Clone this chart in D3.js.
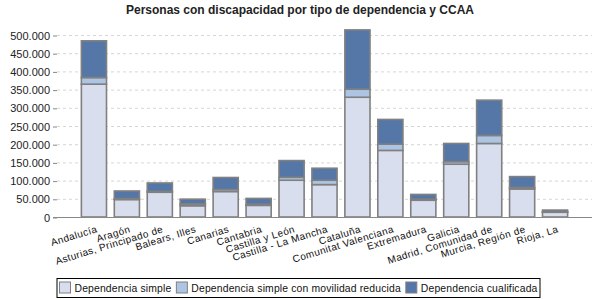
<!DOCTYPE html>
<html>
<head>
<meta charset="utf-8">
<script src="https://cdn.jsdelivr.net/npm/d3@7"></script>
<style>
  body { margin: 0; background: #fff; }
  svg { display: block; font-family: "Liberation Sans", Arial, sans-serif; }
  .grid line { stroke: #d6d6d6; stroke-dasharray: 3,3; }
  .tick-label { font-size: 11px; fill: #222; }
  .cat-label { font-size: 10px; fill: #111; letter-spacing: 0.4px; }
  .legend-text { font-size: 10.4px; fill: #111; letter-spacing: 0.15px; }
</style>
</head>
<body>
<div id="chart"></div>
<script>
var categories = ["Andalucía", "Aragón", "Asturias, Principado de", "Balears, Illes", "Canarias",
    "Cantabria", "Castilla y León", "Castilla - La Mancha", "Cataluña", "Comunitat Valenciana",
    "Extremadura", "Galicia", "Madrid, Comunidad de", "Murcia, Región de", "Rioja, La"];

var simple      = [365000, 48000, 68000, 31000, 70000, 32000, 101000, 89000, 329000, 183000, 46000, 145000, 202000, 77000, 13000];
var movilidad   = [18000, 2500, 2500, 5000, 5500, 3000, 8000, 12000, 22000, 17000, 3000, 7000, 22000, 4000, 1000];
var cualificada = [101000, 21000, 23000, 13000, 33000, 16000, 46000, 33000, 163000, 68000, 13000, 50000, 97000, 30000, 5000];

var seriesNames = ["Dependencia simple", "Dependencia simple con movilidad reducida", "Dependencia cualificada"];
var seriesColors = ["#d9deef", "#adc5e3", "#5577a8"];
var yTicks = [0, 50000, 100000, 150000, 200000, 250000, 300000, 350000, 400000, 450000, 500000];

var width = 600, height = 300,
    plot = {left: 57, right: 592, top: 35, bottom: 217};

var es = d3.formatLocale({decimal: ",", thousands: ".", grouping: [3], currency: ["", ""]});
var fmt = es.format(",d");

var rows = categories.map(function(c, i) {
    return {cat: c, simple: simple[i], movilidad: movilidad[i], cualificada: cualificada[i]};
});
var stack = d3.stack().keys(["simple", "movilidad", "cualificada"])(rows);

var x = d3.scaleBand()
    .domain(categories)
    .range([plot.left, plot.right])
    .paddingInner(0.237)
    .paddingOuter(0.74);

var y = d3.scaleLinear()
    .domain([0, 500000])
    .range([plot.bottom, plot.top]);

var svg = d3.select("#chart").append("svg")
    .attr("width", width)
    .attr("height", height);

svg.append("text")
    .attr("x", 300)
    .attr("y", 14)
    .attr("text-anchor", "middle")
    .style("font-size", "12px")
    .style("font-weight", "bold")
    .style("fill", "#222")
    .text("Personas con discapacidad por tipo de dependencia y CCAA");

// grid
svg.append("g").attr("class", "grid")
    .selectAll("line")
    .data(yTicks.filter(function(d) { return d > 0; }))
    .enter().append("line")
    .attr("x1", plot.left).attr("x2", plot.right)
    .attr("y1", function(d) { return y(d) + 0.5; })
    .attr("y2", function(d) { return y(d) + 0.5; });

// y axis
var yAxis = d3.axisLeft(y).tickValues(yTicks).tickFormat(fmt).tickSize(4).tickPadding(3);
var gy = svg.append("g")
    .attr("transform", "translate(" + plot.left + ",0.5)")
    .call(yAxis);
gy.select(".domain").remove();
gy.selectAll(".tick line").attr("stroke", "#888");
gy.selectAll(".tick text").attr("class", "tick-label");
gy.attr("font-family", null).attr("font-size", null);

// bars
svg.append("g")
    .selectAll("g")
    .data(stack)
    .enter().append("g")
    .attr("fill", function(d, i) { return seriesColors[i]; })
    .selectAll("rect")
    .data(function(d) { return d; })
    .enter().append("rect")
    .attr("x", function(d) { return x(d.data.cat); })
    .attr("width", x.bandwidth())
    .attr("y", function(d) { return y(d[1]); })
    .attr("height", function(d) { return y(d[0]) - y(d[1]); })
    .attr("stroke", "#808080")
    .attr("stroke-width", 1.6);

// x axis line
svg.append("line")
    .attr("x1", plot.left - 4).attr("x2", plot.right)
    .attr("y1", plot.bottom + 0.5).attr("y2", plot.bottom + 0.5)
    .attr("stroke", "#888");

// category labels
svg.append("g")
    .selectAll("text")
    .data(categories)
    .enter().append("text")
    .attr("class", "cat-label")
    .attr("text-anchor", "end")
    .attr("transform", function(d) {
        return "translate(" + (x(d) + x.bandwidth() / 2 + 4) + ",232) rotate(-17)";
    })
    .text(function(d) { return d; });

// legend
var legend = svg.append("g");
var box = legend.append("rect")
    .attr("fill", "#fff")
    .attr("stroke", "#000")
    .attr("stroke-width", 1);

var cx = 0;
var items = legend.selectAll("g.item")
    .data(seriesNames)
    .enter().append("g")
    .attr("class", "item");

items.each(function(d, i) {
    var g = d3.select(this);
    g.append("rect")
        .attr("x", 0).attr("y", -10)
        .attr("width", 11).attr("height", 11)
        .attr("fill", seriesColors[i])
        .attr("stroke", "#808080");
    var t = g.append("text")
        .attr("class", "legend-text")
        .attr("x", 15).attr("y", 0)
        .text(d);
    var w = 15 + t.node().getComputedTextLength();
    g.attr("transform", "translate(" + cx + ",0)");
    cx += w + 5;
});

var legendW = cx - 5,
    lx = 298.5 - legendW / 2;
legend.attr("transform", "translate(" + lx + ",292)");
box.attr("x", -2.5).attr("y", -13.5).attr("width", legendW + 5).attr("height", 19);
</script>
</body>
</html>
